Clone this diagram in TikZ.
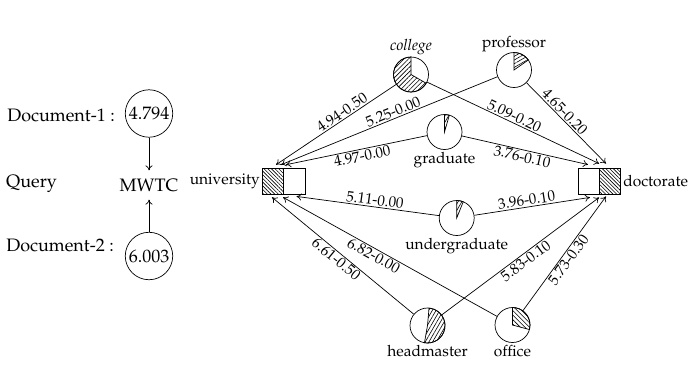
\documentclass[tikz,border=0pt]{standalone}
\usepackage[T1]{fontenc}
\usepackage{mathpazo}
\usetikzlibrary{patterns.meta,arrows.meta}

% hatched sector of a pie node: node, start angle, end angle, hatch angle
\newcommand{\hatchwedge}[4]{%
  \filldraw[pattern={Lines[angle=#4, distance=3.2pt, line width=0.6pt]}, line width=0.7pt]
    (#1.center) -- ++(#2:17.5) arc[start angle=#2, end angle=#3, radius=17.5] -- cycle;}

\begin{document}
\begin{tikzpicture}[x=1pt,y=1pt,
  big/.style={font=\fontsize{18}{21}\selectfont, inner sep=2pt},
  term/.style={font=\fontsize{15.5}{18}\selectfont, inner sep=2pt},
  weight/.style={font=\fontsize{15}{17}\selectfont, sloped, inner sep=1.2pt},
  pie/.style={circle, draw, line width=0.7pt, minimum size=35pt, inner sep=0pt},
  score/.style={circle, draw, line width=0.7pt, inner sep=0.5pt, big},
  flow/.style={-{To[length=5pt,width=7pt]}, line width=0.7pt},
  cell/.style={draw, line width=0.8pt, minimum width=21.5pt, minimum height=26pt, inner sep=0pt},
  hatchcell/.style={cell, pattern={Lines[angle=-45, distance=2.6pt, line width=0.6pt]}},
]
\useasboundingbox (0,0) rectangle (692,-368);

% query side
\node[big, anchor=east] (doc1) at (117,-115) {Document-1 :};
\node[score] (s1) at (149,-113.5) {4.794};
\node[big, inner ysep=8pt] (mwtc) at (149,-185) {MWTC};
\node[big] (query) at (31.5,-184) {Query};
\node[big, anchor=east] (doc2) at (116,-245) {Document-2 :};
\node[score] (s2) at (149,-256) {6.003};
\draw[flow] (s1) -- (mwtc);
\draw[flow] (s2) -- (mwtc);

% end terms
\node[hatchcell] (uh) at (273,-181) {};
\node[cell] (uw) at (294.5,-181) {};
\node[term, anchor=east] (univ) at (uh.west) {university};
\node[cell] (dw) at (589,-181) {};
\node[hatchcell] (dh) at (610,-181) {};
\node[term, anchor=west] (doct) at (dh.east) {doctorate};

% intermediate terms
\node[pie] (college) at (411,-74.5) {};
\node[pie] (professor) at (514,-70) {};
\node[pie] (graduate) at (444.5,-132) {};
\node[pie] (undergrad) at (456.7,-218) {};
\node[pie] (headmaster) at (427.5,-325.5) {};
\node[pie] (office) at (512.5,-325) {};

\hatchwedge{college}{90}{330}{45}
\hatchwedge{professor}{35}{90}{30}
\hatchwedge{graduate}{74}{90}{60}
\hatchwedge{undergrad}{68}{90}{60}
\hatchwedge{headmaster}{-100}{85}{60}
\hatchwedge{office}{-15}{90}{-45}

\node[term, anchor=south] (collegetxt) at (college.north) {\itshape college};
\node[term, anchor=south, yshift=-2pt] (professortxt) at (professor.north) {professor};
\node[term, anchor=north] (graduatetxt) at (graduate.south) {graduate};
\node[term, anchor=north] (undergradtxt) at (undergrad.south) {undergraduate};
\node[term, anchor=north] (headmastertxt) at (headmaster.south) {headmaster};
\node[term, anchor=north] (officetxt) at (office.south) {office};

% weighted links to university
\draw[flow] (college) -- node[weight, pos=0.42, above] {4.94-0.50} ([shift={(3,3)}]uh.north);
\draw[flow] (professor) -- node[weight, pos=0.47, above] {5.25-0.00} ([shift={(-3,3)}]uh.north east);
\draw[flow] (graduate) -- node[weight, pos=0.47, below] {4.97-0.00} ([shift={(2,3)}]uh.north east);
\draw[flow] (undergrad) -- node[weight, pos=0.455, above] {5.11-0.00} ([shift={(2,-2)}]uw.south);
\draw[flow] (headmaster) -- node[weight, pos=0.515, below] {6.61-0.50} ([shift={(-1,-3)}]uh.south);
\draw[flow] (office) -- node[weight, pos=0.56, below] {6.82-0.00} ([shift={(-1,-3)}]uh.south east);

% weighted links to doctorate
\draw[flow] (college) -- node[weight, pos=0.49, above] {5.09-0.20} ([shift={(-1,4)}]dw.north east);
\draw[flow] (professor) -- node[weight, pos=0.42, above] {4.65-0.20} ([shift={(-4,4)}]dh.north);
\draw[flow] (graduate) -- node[weight, pos=0.49, below] {3.76-0.10} ([shift={(-1,3)}]dw.north);
\draw[flow] (undergrad) -- node[weight, pos=0.46, above] {3.96-0.10} ([shift={(1,-3)}]dw.south);
\draw[flow] (headmaster) -- node[weight, pos=0.507, below] {5.83-0.10} ([shift={(-1,-3)}]dw.south east);
\draw[flow] (office) -- node[weight, pos=0.48, below] {5.73-0.30} ([shift={(-4,-2)}]dh.south);
\end{tikzpicture}
\end{document}
